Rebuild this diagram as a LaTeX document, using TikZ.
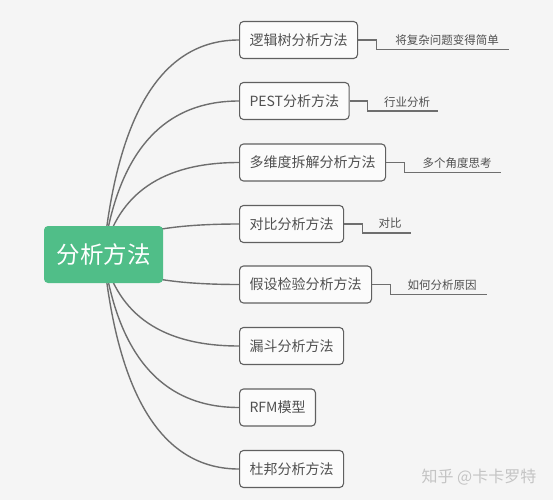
\documentclass[tikz,border=0pt]{standalone}
\usepackage{fontspec}
\setmainfont{Noto Sans CJK SC}
\usetikzlibrary{calc}
\definecolor{bgc}{HTML}{F5F5F5}
\definecolor{rootc}{HTML}{50BE88}
\definecolor{linec}{HTML}{6E6E6E}
\definecolor{boxline}{HTML}{606060}
\definecolor{txtc}{HTML}{505050}
\definecolor{wmc}{HTML}{C4C4C4}
\pgfdeclarelayer{bgl}
\pgfdeclarelayer{lines}
\pgfsetlayers{bgl,lines,main}
\begin{document}
\begin{tikzpicture}[x=1pt,y=-1pt,
  rootbox/.style={fill=rootc,rounded corners=4pt,text=white,font=\fontsize{23.5}{26}\selectfont,minimum width=119pt,minimum height=57pt,inner sep=0pt},
  topicbox/.style={draw=boxline,line width=1.1pt,fill=white!60!bgc,rounded corners=4pt,text=txtc,font=\fontsize{14}{16}\selectfont,minimum height=37pt,inner xsep=10pt,inner ysep=0pt,anchor=west},
  leaftext/.style={text=txtc,font=\fontsize{11.5}{13}\selectfont,inner sep=0pt},
  conn/.style={draw=linec,line width=1.4pt},
  leafline/.style={draw=linec,line width=1.1pt}]
\begin{pgfonlayer}{bgl}
\fill[bgc] (0,0) rectangle (553,500);
\end{pgfonlayer}
\useasboundingbox (0,0) rectangle (553,500);

\node[rootbox] (root) at (103.5,254.5) {分析方法};

\node[topicbox] (b1) at (239,40) {逻辑树分析方法};
\node[topicbox] (b2) at (239,101) {PEST分析方法};
\node[topicbox] (b3) at (239,162.5) {多维度拆解分析方法};
\node[topicbox] (b4) at (239,224) {对比分析方法};
\node[topicbox] (b5) at (239,284.5) {假设检验分析方法};
\node[topicbox] (b6) at (239,346) {漏斗分析方法};
\node[topicbox] (b7) at (239,407.5) {RFM模型};
\node[topicbox] (b8) at (239,469) {杜邦分析方法};

\begin{pgfonlayer}{lines}
\foreach \i in {1,...,8}{
  \coordinate (p\i) at ($(b\i.west)+(-114,0)$);
  \draw[conn] (root.center) .. controls ($(root.center)!0.667!(p\i)$) and ($(b\i.west)+(-76,0)$) .. (b\i.west);
}
\end{pgfonlayer}

% leaves
\node[leaftext] (l1) at (447,40) {将复杂问题变得简单};
\coordinate (e1) at (509,49.5);
\draw[leafline] (b1.east) -- ++(18,0) |- (e1);

\node[leaftext] (l2) at (407,102) {行业分析};
\coordinate (e2) at (438,111);
\draw[leafline] (b2.east) -- ++(18,0) |- (e2);

\node[leaftext] (l3) at (457,163) {多个角度思考};
\coordinate (e3) at (501,172.5);
\draw[leafline] (b3.east) -- ++(18,0) |- (e3);

\node[leaftext] (l4) at (390,223.5) {对比};
\coordinate (e4) at (411,233);
\draw[leafline] (b4.east) -- ++(18,0) |- (e4);

\node[leaftext] (l5) at (442,285.5) {如何分析原因};
\coordinate (e5) at (487,294.5);
\draw[leafline] (b5.east) -- ++(18,0) |- (e5);

\node[text=wmc,font=\fontsize{16}{18}\selectfont,inner sep=0pt] (wm) at (479,477) {知乎 @卡卡罗特};
\end{tikzpicture}
\end{document}
